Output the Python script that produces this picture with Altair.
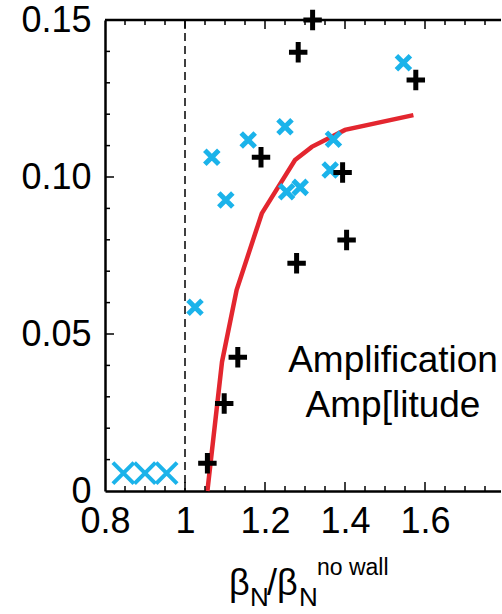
import altair as alt
import pandas as pd

# ---- data ----
plus_x = [1.319, 1.283, 1.577, 1.190, 1.394, 1.404, 1.279, 1.132, 1.098, 1.056]
plus_y = [0.1500, 0.1397, 0.1309, 0.1063, 0.1014, 0.0799, 0.0725, 0.0426, 0.0279, 0.0088]

cross_x = [1.546, 1.250, 1.158, 1.067, 1.102, 1.371, 1.363, 1.254, 1.288, 1.025]
cross_y = [0.1364, 0.1160, 0.1118, 0.1063, 0.0927, 0.1120, 0.1022, 0.0953, 0.0967, 0.0585]

off_x = [0.846, 0.900, 0.954]
off_y = [0.0057, 0.0057, 0.0057]

line_x = [1.056, 1.0925, 1.129, 1.192, 1.275, 1.317, 1.400, 1.571]
line_y = [0.0, 0.0411, 0.0640, 0.0884, 0.1054, 0.1096, 0.1150, 0.1197]

wall_x = [1.0]

x_labels = [0.8, 1.0, 1.2, 1.4, 1.6]
y_labels = [0.0, 0.05, 0.10, 0.15]
x_major = [1.0, 1.2, 1.4, 1.6]
x_minor = [0.85, 0.9, 0.95, 1.05, 1.1, 1.15, 1.25, 1.3, 1.35, 1.45, 1.5, 1.55, 1.65, 1.7, 1.75]
y_major = [0.05, 0.10]
y_minor = [0.01, 0.02, 0.03, 0.04, 0.06, 0.07, 0.08, 0.09, 0.11, 0.12, 0.13, 0.14]

legend_lines = ["Amplification", "Amp[litude"]

# ---- styling ----
W, H = 396, 471
FONT = "Liberation Sans"
RED = "#E3262F"
BLUE = "#1BB3EA"

xs = alt.Scale(domain=[0.8, 1.79], nice=False, zero=False)
ys = alt.Scale(domain=[0, 0.15], nice=False, zero=False)

xaxis = alt.Axis(values=x_labels, title=None, ticks=False, grid=False, domain=True,
                 domainColor="black", domainWidth=2.5, labelFontSize=36, labelFont=FONT,
                 labelColor="black", labelPadding=13, labelFlush=False, labelOverlap=False,
                 labelExpr="format(datum.value, '~g')")
yaxis = alt.Axis(values=y_labels, title=None, ticks=False, grid=False, domain=True,
                 domainColor="black", domainWidth=2.5, labelFontSize=36, labelFont=FONT,
                 labelColor="black", labelPadding=14, labelOverlap=False,
                 labelExpr="datum.value == 0 ? '0' : format(datum.value, '.2f')")

plus_df = pd.DataFrame({"x": plus_x, "y": plus_y})
cross_df = pd.DataFrame({"x": cross_x, "y": cross_y})
off_df = pd.DataFrame({"x": off_x, "y": off_y})
line_df = pd.DataFrame({"x": line_x, "y": line_y, "i": list(range(len(line_x)))})

X = alt.X("x:Q", scale=xs, axis=xaxis)
Y = alt.Y("y:Q", scale=ys, axis=yaxis)

wall = alt.Chart(pd.DataFrame({"x": wall_x})).mark_rule(
    color="black", strokeWidth=1.5, strokeDash=[8, 5]).encode(x=X)

red = alt.Chart(line_df).mark_line(color=RED, strokeWidth=4.5).encode(
    x=X, y=Y, order="i:Q")

crosses = alt.Chart(cross_df).mark_point(
    shape="M-1,-1L1,1M-1,1L1,-1", filled=False, stroke=BLUE, strokeWidth=5,
    size=196, opacity=1).encode(x=X, y=Y)

offs = alt.Chart(off_df).mark_point(
    shape="M-1,-1L1,1M-1,1L1,-1", filled=False, stroke=BLUE, strokeWidth=4,
    size=441, opacity=1).encode(x=X, y=Y)

pluses = alt.Chart(plus_df).mark_point(
    shape="M-0.9,0H0.9M0,-1V1", filled=False, stroke="black", strokeWidth=5,
    size=420, opacity=1).encode(x=X, y=Y)

# ---- inward ticks and frame ----
def xticks(vals, length):
    d = pd.DataFrame({"x": vals})
    bottom = alt.Chart(d).mark_rule(color="black", strokeWidth=1.5).encode(
        x=X, y=alt.value(H), y2=alt.value(H - length))
    top = alt.Chart(d).mark_rule(color="black", strokeWidth=1.5).encode(
        x=X, y=alt.value(0), y2=alt.value(length))
    return bottom + top

def yticks(vals, length):
    d = pd.DataFrame({"y": vals})
    return alt.Chart(d).mark_rule(color="black", strokeWidth=1.5).encode(
        y=Y, x=alt.value(0), x2=alt.value(length))

top_line = alt.Chart(pd.DataFrame({"x": [0.8]})).mark_rule(
    color="black", strokeWidth=2.5).encode(
    x=alt.value(0), x2=alt.value(W), y=alt.value(0))

# ---- texts ----
def txt(s, x, y, size, align="left"):
    return alt.Chart(pd.DataFrame({"t": [s]})).mark_text(
        align=align, baseline="alphabetic", font=FONT, fontSize=size, color="black"
    ).encode(text="t:N", x=alt.value(x), y=alt.value(y))

legend = txt(legend_lines[0], 288, 352, 37, "center") + txt(legend_lines[1], 288, 397, 37, "center")

title = (txt("β", 124, 575, 36) + txt("N", 145, 586, 26) + txt("/", 162, 575, 36)
         + txt("β", 172, 575, 36) + txt("N", 194, 586, 26) + txt("no wall", 212, 555, 23))

chart = alt.layer(
    wall, red, offs, crosses, pluses,
    xticks(x_major, 9), xticks(x_minor, 5), yticks(y_major, 9), yticks(y_minor, 5),
    top_line, legend, title
).properties(
    width=W, height=H,
    autosize=alt.AutoSizeParams(type="none"),
    padding={"left": 105, "top": 20, "right": 0, "bottom": 123},
).configure_view(stroke=None)

chart.save("out.html", embed_options={"renderer": "svg", "actions": False})
